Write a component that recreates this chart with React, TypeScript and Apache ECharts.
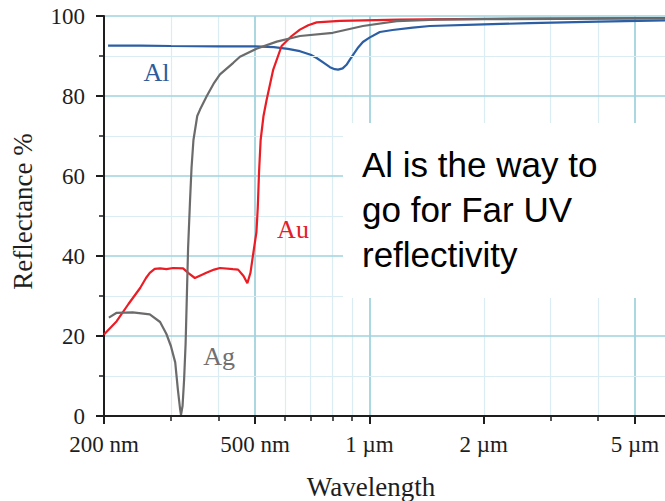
import React, { useEffect, useRef } from "react";
import * as echarts from "echarts";

// Wavelength (nm), reflectance (%)
const alData: [number, number][] = [
  [205, 92.6], [250, 92.6], [300, 92.5], [400, 92.4], [500, 92.4], [560, 92.2],
  [610, 91.8], [656, 91.2], [700, 90.3], [726, 89.5], [760, 88.2], [787, 87.2],
  [810, 86.7], [827, 86.6], [850, 86.9], [870, 87.8], [888, 89.1], [910, 90.6],
  [935, 92.2], [961, 93.5], [1000, 94.6], [1065, 96.0], [1150, 96.5], [1300, 97.1],
  [1442, 97.5], [2000, 97.9], [2642, 98.2], [4000, 98.6], [6000, 98.9],
];

const agData: [number, number][] = [
  [206, 24.6], [216, 25.8], [238, 25.9], [264, 25.4], [281, 23.5], [292, 20.5],
  [300, 17.5], [308, 13.4], [313, 6.6], [317, 2], [319, 0.3], [322, 2.5],
  [325, 9], [328, 18], [330, 27.5], [333, 42], [337, 54], [340, 62], [344, 69],
  [352, 75], [358, 76.6], [373, 80], [390, 83.3], [404, 85.4], [438, 88.3],
  [456, 89.8], [504, 91.8], [570, 93.6], [656, 95], [801, 95.8], [961, 97.5],
  [1180, 98.7], [1500, 99.1], [2000, 99.2], [6000, 99.4],
];

const auData: [number, number][] = [
  [200, 20.4], [216, 23.7], [232, 28], [249, 32], [258, 34.5], [264, 35.8],
  [272, 36.8], [281, 36.9], [292, 36.7], [304, 37], [323, 36.9], [335, 35.6],
  [347, 34.5], [360, 35.2], [372, 35.8], [390, 36.6], [404, 37], [437, 36.7],
  [451, 36.6], [466, 35], [477, 33.2], [486, 35.8], [496, 41.6], [504, 46],
  [508, 52], [512, 61], [517, 69], [526, 75], [536, 79], [558, 86.6], [587, 92.5],
  [624, 95], [656, 96.6], [690, 97.7], [726, 98.4], [836, 98.8], [1200, 99.1],
  [2000, 99.3], [6000, 99.5],
];

const xLabelValues = [200, 500, 1000, 2000, 5000];
const xLabelTexts = ["200 nm", "500 nm", "1 µm", "2 µm", "5 µm"];
const xMinorTicks = [300, 400, 600, 700, 800, 900, 2000, 3000, 4000];
const xMajorGrid = [500, 1000, 5000];

const seriesNames = ["Al", "Au", "Ag"];
const labelCoords: [number, number][] = [
  [275, 85.8],
  [629, 46.6],
  [402, 14.8],
];

const noteText = "Al is the way to\ngo for Far UV\nreflectivity";

const SERIF = '"Liberation Serif", "Times New Roman", serif';
const SANS = '"Liberation Sans", Arial, sans-serif';
const INK = "#1e1e1e";

export default function App() {
  const ref = useRef<HTMLDivElement>(null);

  useEffect(() => {
    if (!ref.current) return;
    const chart = echarts.init(ref.current, undefined, { renderer: "svg" });

    const baseX = {
      type: "log" as const,
      logBase: 10,
      min: 200,
      max: 6000,
      position: "bottom" as const,
      gridIndex: 0,
      minorTick: { show: false },
      minorSplitLine: { show: false },
    };

    const colors = ["#2b5ea4", "#ec1c24", "#6b6b6b"];
    const labelColors = ["#2d5c9c", "#e3202a", "#707070"];
    const datas = [alData, auData, agData];

    chart.setOption({
      animation: false,
      backgroundColor: "#ffffff",
      grid: { left: 104, right: 0, top: 16, bottom: 85, containLabel: false },
      xAxis: [
        {
          ...baseX,
          z: 5,
          axisLine: { show: true, lineStyle: { color: INK, width: 2 } },
          axisTick: {
            show: true,
            customValues: xLabelValues,
            length: 8,
            lineStyle: { color: INK, width: 2 },
          },
          axisLabel: {
            show: true,
            customValues: xLabelValues,
            formatter: (v: number) => {
              const i = xLabelValues.findIndex((x) => Math.abs(x - v) < 1e-6 * x);
              return i >= 0 ? xLabelTexts[i] : "";
            },
            fontFamily: SERIF,
            fontSize: 23,
            color: INK,
            margin: 17,
          },
          splitLine: { show: false },
        },
        {
          ...baseX,
          z: 1,
          axisLine: { show: false },
          axisTick: {
            show: true,
            customValues: xMinorTicks,
            length: 5,
            lineStyle: { color: INK, width: 1.5 },
          },
          axisLabel: { show: false },
          splitLine: { show: true, lineStyle: { color: "#d9edf2", width: 1.2 } },
        },
        {
          ...baseX,
          z: 2,
          axisLine: { show: false },
          axisTick: { show: false, customValues: xMajorGrid },
          axisLabel: { show: false },
          splitLine: { show: true, lineStyle: { color: "#8fcad7", width: 1.5 } },
        },
      ],
      yAxis: {
        type: "value",
        min: 0,
        max: 100,
        interval: 20,
        z: 4,
        axisLine: { show: true, lineStyle: { color: INK, width: 2 } },
        axisTick: { show: true, length: 8, lineStyle: { color: INK, width: 2 } },
        minorTick: { show: true, splitNumber: 2, length: 5, lineStyle: { color: INK, width: 1.5 } },
        splitLine: { show: true, lineStyle: { color: "#9fd3de", width: 1.5 } },
        minorSplitLine: { show: true, lineStyle: { color: "#d9edf2", width: 1.2 } },
        axisLabel: {
          fontFamily: SERIF,
          fontSize: 23,
          color: INK,
          margin: 19,
        },
      },
      series: datas.map((d, i) => ({
        name: seriesNames[i],
        type: "line",
        xAxisIndex: 0,
        data: d,
        showSymbol: false,
        symbol: "none",
        smooth: false,
        z: 3 + i,
        lineStyle: { color: colors[i], width: 2.2 },
        markPoint: {
          symbol: "circle",
          symbolSize: 1,
          itemStyle: { color: "rgba(0,0,0,0)" },
          silent: true,
          label: {
            show: true,
            position: "inside",
            formatter: seriesNames[i],
            fontFamily: SERIF,
            fontSize: 26,
            color: labelColors[i],
          },
          data: [{ coord: labelCoords[i] }],
        },
      })),
      graphic: [
        {
          type: "rect",
          z: 20,
          shape: { x: 343, y: 123, width: 330, height: 175 },
          style: { fill: "#ffffff" },
        },
        {
          type: "text",
          z: 21,
          x: 362,
          y: 142,
          style: {
            text: noteText,
            fontFamily: SANS,
            fontSize: 35,
            lineHeight: 45,
            fill: "#000000",
            align: "left",
            verticalAlign: "top",
          },
        },
        {
          type: "text",
          z: 21,
          x: 371,
          y: 487,
          style: {
            text: "Wavelength",
            fontFamily: SERIF,
            fontSize: 27,
            fill: INK,
            align: "center",
            verticalAlign: "middle",
          },
        },
        {
          type: "text",
          z: 21,
          x: 22.5,
          y: 211.5,
          rotation: Math.PI / 2,
          style: {
            text: "Reflectance %",
            fontFamily: SERIF,
            fontSize: 27,
            fill: INK,
            align: "center",
            verticalAlign: "middle",
          },
        },
      ],
    });

    return () => chart.dispose();
  }, []);

  return (
    <div
      ref={ref}
      style={{ position: "fixed", left: 0, top: 0, width: 665, height: 501, background: "#fff" }}
    />
  );
}
